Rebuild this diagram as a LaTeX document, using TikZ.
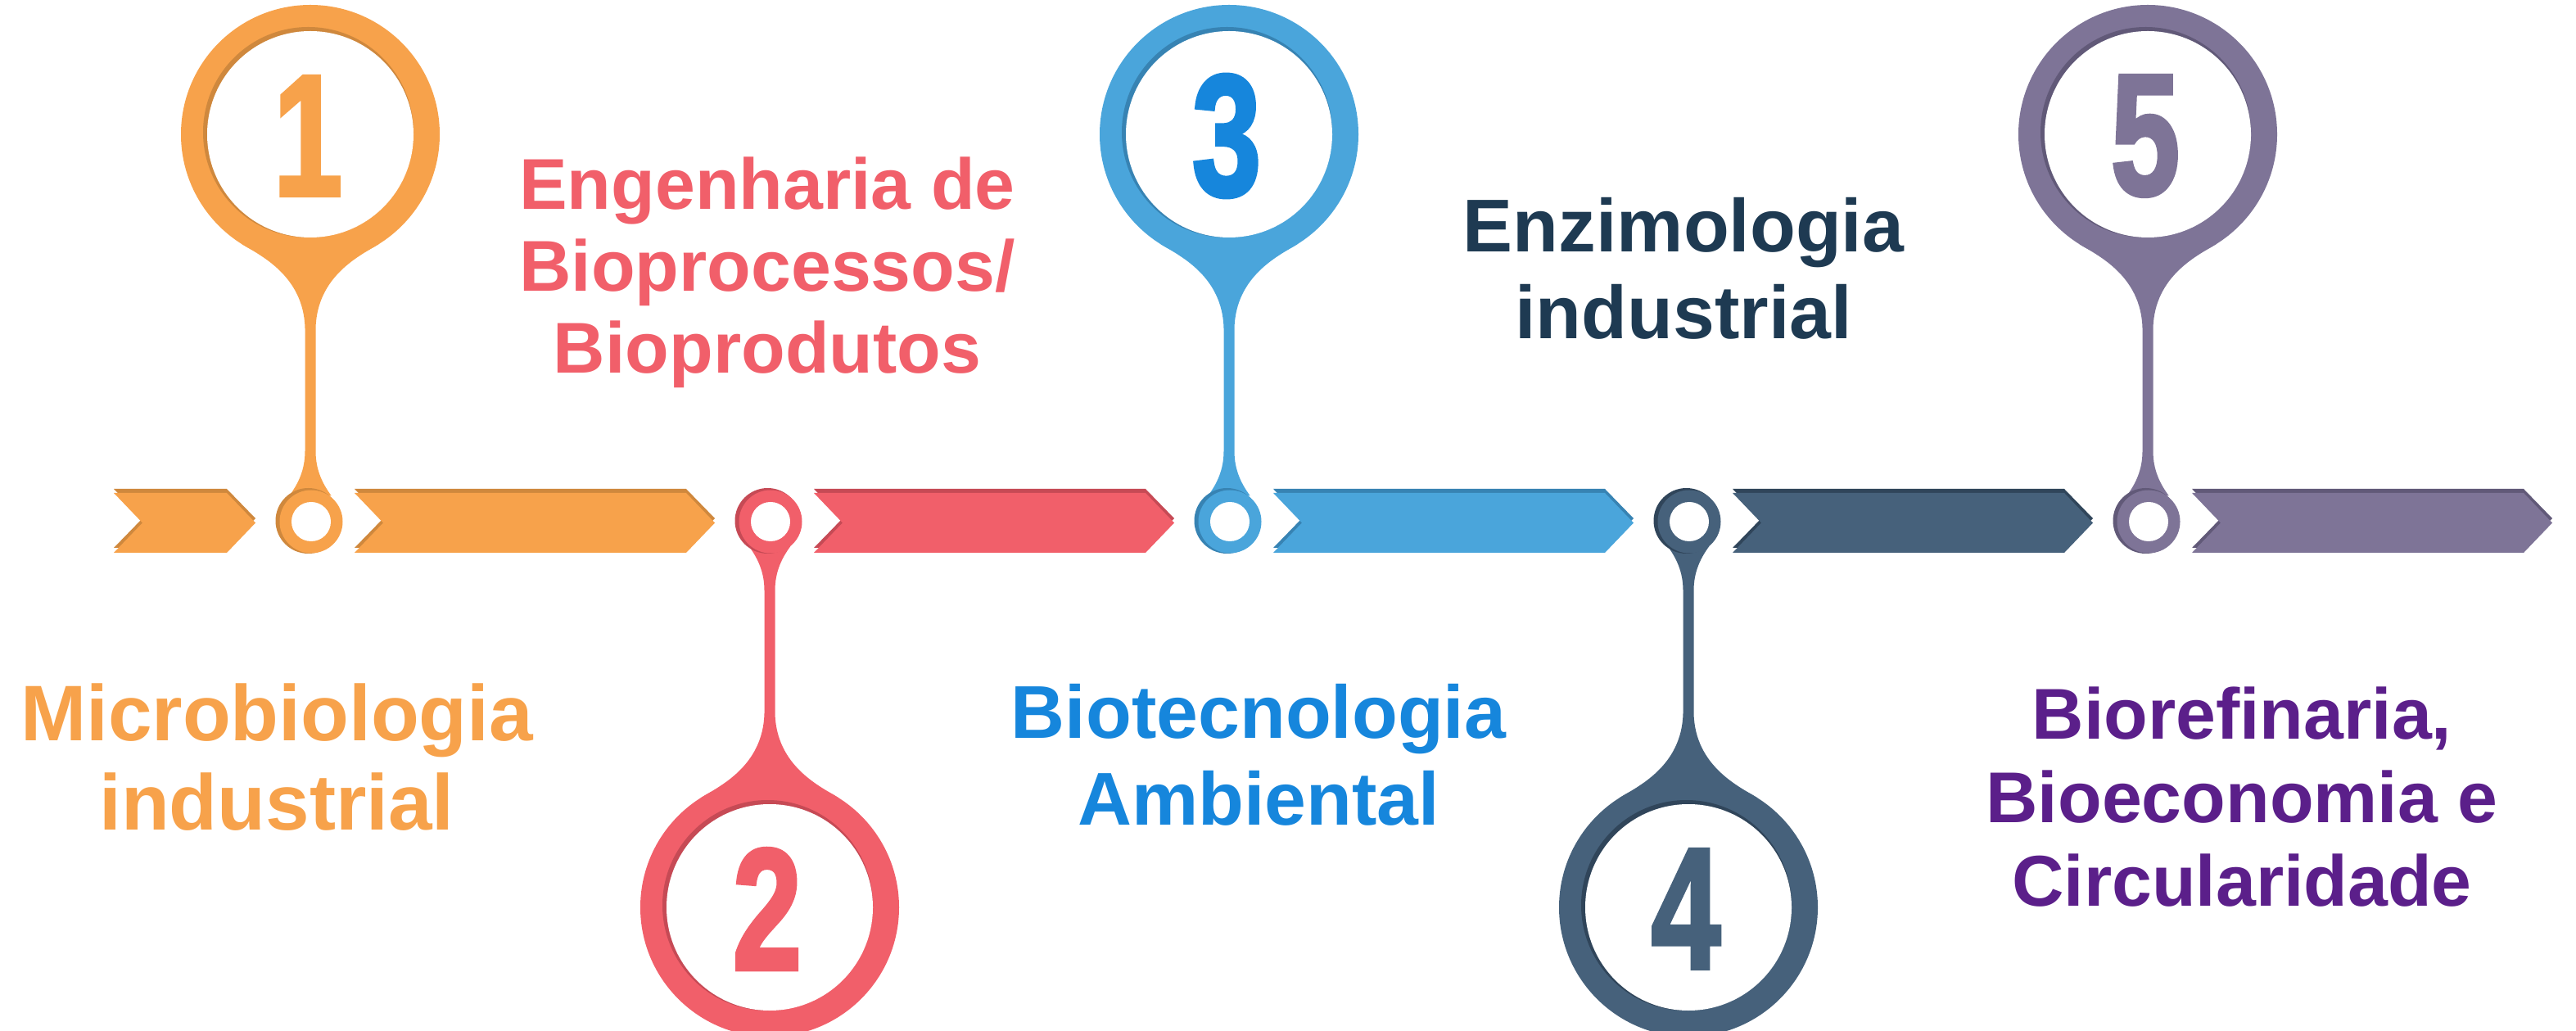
\documentclass[tikz,border=0pt]{standalone}
\usepackage{fontspec}
\setmainfont{Liberation Sans}
\newfontfamily\numfont{Liberation Sans}[BoldFeatures={FakeBold=2.5}]
\usepackage{tikz}
\usepackage{xcolor}

\definecolor{orangeA}{HTML}{F7A24B}
\definecolor{orangeB}{HTML}{CF883D}
\definecolor{redA}{HTML}{F15F6A}
\definecolor{redB}{HTML}{C64A55}
\definecolor{blueA}{HTML}{4AA5DB}
\definecolor{blueB}{HTML}{3783B3}
\definecolor{navyA}{HTML}{46617B}
\definecolor{navyB}{HTML}{30455A}
\definecolor{purpleA}{HTML}{7E7497}
\definecolor{purpleB}{HTML}{615978}
\definecolor{blueT}{HTML}{1686DC}
\definecolor{navyT}{HTML}{1E3A52}
\definecolor{purpleT}{HTML}{5B1F8A}

\tikzset{
  label text/.style args={#1/#2}{font=\fontsize{#1}{#2}\selectfont\bfseries, align=center, inner sep=0pt},
  number text/.style={font=\numfont\fontsize{60}{60}\selectfont\bfseries, inner sep=0pt},
}

% #1 left end, #2 tip, #3 colour, #4 shadow
\newcommand{\chevron}[4]{%
  \fill[#4] (#1,6.61) -- (#2-0.35,6.61) -- (#2,6.25) -- (#2-0.35,5.89) -- (#1,5.89) -- (#1+0.35,6.25) -- cycle;
  \fill[#3] (#1,6.56) -- (#2-0.35,6.56) -- (#2,6.195) -- (#2-0.35,5.83) -- (#1,5.83) -- (#1+0.35,6.195) -- cycle;
}

% #1 x, #2 up (1) or down (-1), #3 colour, #4 shadow, #5 number, #6 number colour
\newcommand{\pin}[6]{%
  \begin{scope}[shift={(#1,6.22)}, yscale=#2]
    \fill[#3] (0,4.72) circle (1.58);
    \fill[#3] (-0.837,3.38) .. controls (-0.625,3.2475) and (-0.08,3.0) .. (-0.065,2.35)
      -- (-0.065,0.85) .. controls (-0.065,0.62) and (-0.15,0.45) .. (-0.257,0.306)
      -- (0.257,0.306) .. controls (0.15,0.45) and (0.065,0.62) .. (0.065,0.85)
      -- (0.065,2.35) .. controls (0.08,3.0) and (0.625,3.2475) .. (0.837,3.38) -- cycle;
  \end{scope}
  \fill[#4] ({#1-0.025},6.22) circle (0.4);
  \fill[#3] ({#1+0.01},6.21) circle (0.385);
  \fill[white] ({#1+0.01},6.21) circle (0.24);
  \fill[#4] ({#1-0.025},{6.245+#2*4.72}) circle (1.285);
  \fill[white] (#1,{6.22+#2*4.72}) circle (1.26);
  \node[number text, text=#6] (num#5) at ({#1-0.03},{6.2+#2*4.72}) {\scalebox{0.72}[1]{#5}};
}

\begin{document}
\begin{tikzpicture}
\useasboundingbox (0,0) rectangle (31.46,12.58);

% timeline band
\chevron{1.39}{3.12}{orangeA}{orangeB}
\chevron{4.33}{8.73}{orangeA}{orangeB}
\chevron{9.94}{14.34}{redA}{redB}
\chevron{15.55}{19.95}{blueA}{blueB}
\chevron{21.16}{25.56}{navyA}{navyB}
\chevron{26.77}{31.17}{purpleA}{purpleB}

% pins
\pin{3.79}{1}{orangeA}{orangeB}{1}{orangeA}
\pin{9.40}{-1}{redA}{redB}{2}{redA}
\pin{15.01}{1}{blueA}{blueB}{3}{blueT}
\pin{20.62}{-1}{navyA}{navyB}{4}{navyA}
\pin{26.23}{1}{purpleA}{purpleB}{5}{purpleA}

% labels
\node[label text=27.4/31, text=orangeA] (microbio) at (3.38,3.33) {Microbiologia\\industrial};
\node[label text=25/28.5, text=redA] (engenharia) at (9.37,9.25) {Engenharia de\\Bioprocessos/\\Bioprodutos};
\node[label text=26/30, text=blueT] (biotec) at (15.37,3.36) {Biotecnologia\\Ambiental};
\node[label text=26/30, text=navyT] (enzimo) at (20.56,9.30) {Enzimologia\\industrial};
\node[label text=25/29, text=purpleT] (biorefin) at (27.38,2.85) {Biorefinaria,\\Bioeconomia e\\Circularidade};
\end{tikzpicture}
\end{document}
